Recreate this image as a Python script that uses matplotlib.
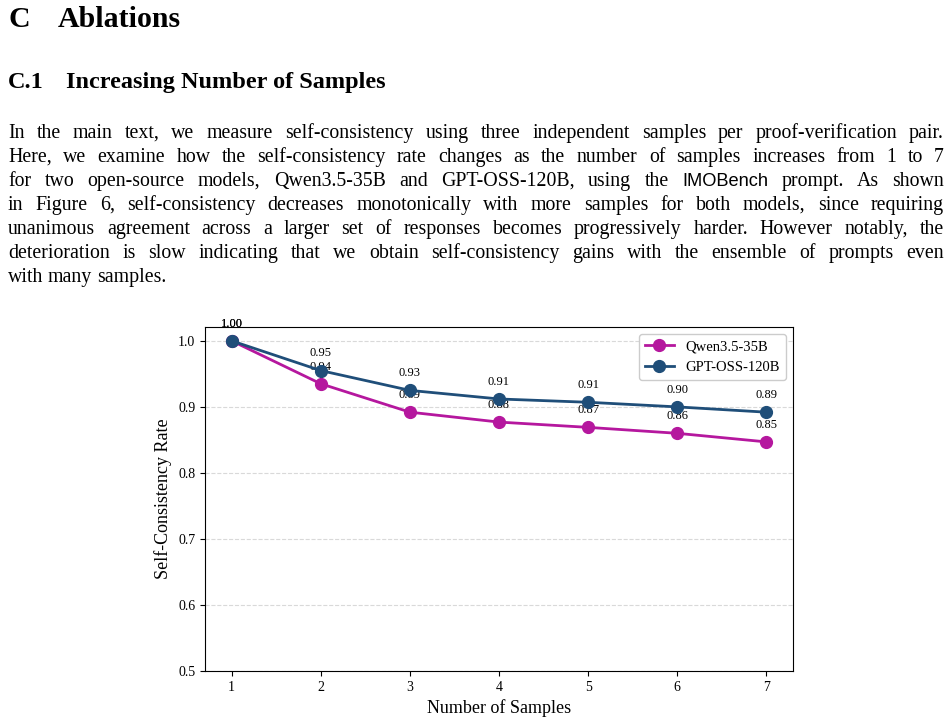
import matplotlib
matplotlib.use("Agg")
import matplotlib.pyplot as plt

## chart data
samples = [1, 2, 3, 4, 5, 6, 7]
qwen = [1.000, 0.935, 0.892, 0.877, 0.869, 0.860, 0.847]
gpt = [1.000, 0.955, 0.925, 0.912, 0.907, 0.900, 0.892]
series_names = ["Qwen3.5-35B", "GPT-OSS-120B"]
yticks = [0.5, 0.6, 0.7, 0.8, 0.9, 1.0]

## page text
heading = ("C", "Ablations")
subheading = ("C.1", "Increasing Number of Samples")
body_lines = [
    "In the main text, we measure self-consistency using three independent samples per proof-verification pair.",
    "Here, we examine how the self-consistency rate changes as the number of samples increases from 1 to 7",
    "for two open-source models, Qwen3.5-35B and GPT-OSS-120B, using the IMOBench prompt.  As shown",
    "in Figure 6, self-consistency decreases monotonically with more samples for both models, since requiring",
    "unanimous agreement across a larger set of responses becomes progressively harder. However notably, the",
    "deterioration is slow indicating that we obtain self-consistency gains with the ensemble of prompts even",
    "with many samples.",
]

W, H = 952, 724
SERIF = "Liberation Serif"
plt.rcParams['font.family'] = [SERIF, 'DejaVu Serif']

fig = plt.figure(figsize=(W / 100, H / 100), dpi=100)


def fx(x):
    return x / W


def fy(y):
    return 1 - y / H


# headings
fig.text(fx(8), fy(27), heading[0], fontsize=21.5, fontweight="bold", va="baseline")
fig.text(fx(58), fy(27), heading[1], fontsize=21.5, fontweight="bold", va="baseline")
fig.text(fx(8), fy(88), subheading[0], fontsize=17.5, fontweight="bold", va="baseline")
fig.text(fx(66), fy(88), subheading[1], fontsize=17.5, fontweight="bold", va="baseline")

# justified body text, one word at a time
renderer = fig.canvas.get_renderer()
left, right = 8, 944
body_size = 14.3
for i, line in enumerate(body_lines):
    base = 138 + i * 24
    words = line.split()
    items = []
    for w in words:
        fam = "Liberation Sans" if w == "IMOBench" else SERIF
        sz = body_size * 0.92 if w == "IMOBench" else body_size
        t = fig.text(0, fy(base), w, fontsize=sz, family=fam, va="baseline")
        items.append(t)
    widths = [t.get_window_extent(renderer).width for t in items]
    last = i == len(body_lines) - 1
    if last:
        gap = 4.5
    else:
        gap = (right - left - sum(widths)) / (len(items) - 1)
    x = left
    for t, wd in zip(items, widths):
        t.set_x(fx(x))
        x += wd + gap

# chart
ax = fig.add_axes([fx(205), fy(671), fx(793 - 205), (671 - 327) / H])
c_qwen = "#b5179e"
c_gpt = "#1f4e79"
ax.plot(samples, qwen, "-o", color=c_qwen, lw=2, ms=8.5, label=series_names[0], zorder=3)
ax.plot(samples, gpt, "-o", color=c_gpt, lw=2, ms=8.5, label=series_names[1], zorder=4)
for xs, vals in ((samples, qwen), (samples, gpt)):
    for x, v in zip(xs, vals):
        ax.annotate(f"{v:.2f}", (x, v), xytext=(0, 8), textcoords="offset points",
                    ha="center", va="bottom", fontsize=9, zorder=2)

ax.set_xlim(0.7, 7.3)
ax.set_ylim(0.5, 1.021)
ax.set_xticks(samples)
ax.set_yticks(yticks)
ax.set_yticklabels([f"{v:.1f}" for v in yticks])
ax.tick_params(labelsize=10)
ax.yaxis.grid(True, ls="--", color="#d9d9d9", lw=0.8)
ax.set_axisbelow(True)
ax.set_xlabel("Number of Samples", fontsize=13)
ax.set_ylabel("Self-Consistency Rate", fontsize=13)
ax.legend(loc="upper right", fontsize=10.5, framealpha=1, edgecolor="#cccccc")

fig.savefig("out.png", dpi=100)
